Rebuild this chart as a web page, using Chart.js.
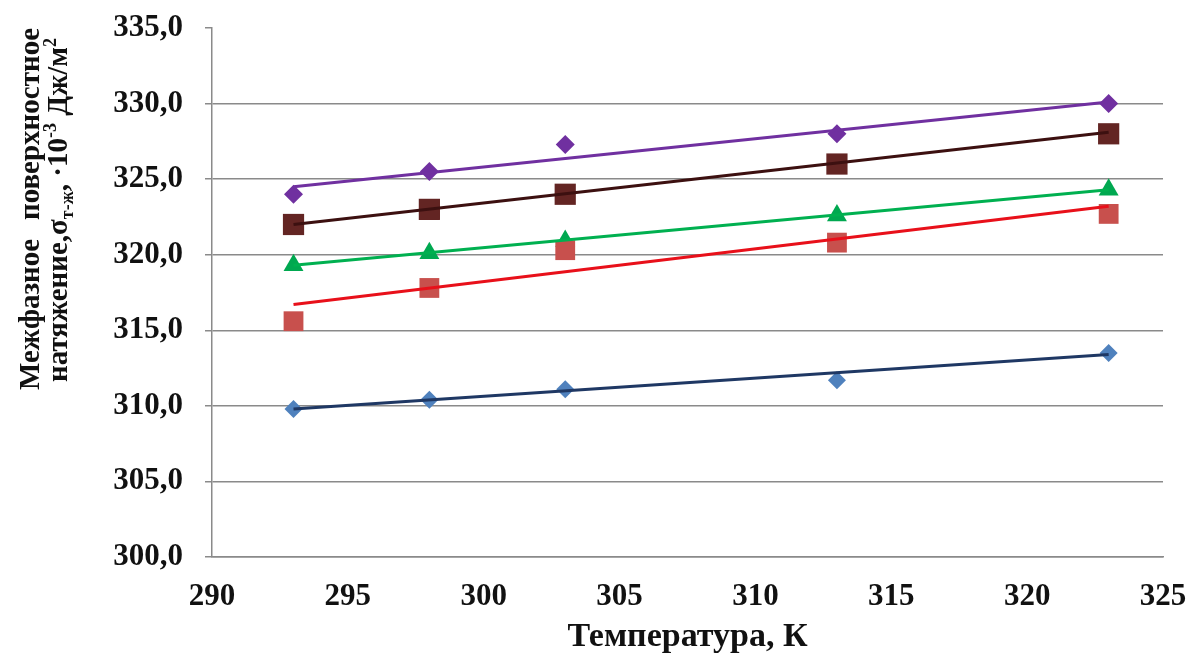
<!DOCTYPE html>
<html>
<head>
<meta charset="utf-8">
<script src="https://cdn.jsdelivr.net/npm/chart.js@4"></script>
<style>
    html, body { margin: 0; padding: 0; background: #fff; }
    #wrap { width: 1192px; height: 658px; }
</style>
</head>
<body>
<div id="wrap"><canvas id="chart" width="1192" height="658"></canvas></div>
<script>
// temperatures, K
const temps = [293, 298, 303, 313, 323];
// measured interfacial tension, 10^-3 J/m2
const seriesBlue = [309.8, 310.4, 311.1, 311.7, 313.5];
const seriesRed = [315.6, 317.8, 320.3, 320.8, 322.7];
const seriesGreen = [319.3, 320.1, 320.9, 322.6, 324.3];
const seriesBrown = [322.0, 323.0, 324.0, 326.0, 328.0];
const seriesPurple = [324.0, 325.5, 327.3, 328.0, 330.0];
// trend line ends (at 293 and 323 K)
const trendX = [293, 323];
const trendBlue = [309.8, 313.4];
const trendRed = [316.7, 323.2];
const trendGreen = [319.3, 324.3];
const trendBrown = [322.0, 328.1];
const trendPurple = [324.5, 330.1];

const FONT = "'Liberation Serif', 'Times New Roman', serif";

function pts(xs, ys) {
    return xs.map((x, i) => ({ x: x, y: ys[i] }));
}

function markers(data, style, color, radius) {
    return {
        type: 'scatter',
        data: pts(temps, data),
        showLine: false,
        pointStyle: style,
        pointRadius: radius,
        pointBackgroundColor: color,
        pointBorderColor: color,
        pointBorderWidth: 0,
        order: 2
    };
}

function trend(data, color) {
    return {
        type: 'line',
        data: pts(trendX, data),
        borderColor: color,
        borderWidth: 3,
        pointRadius: 0,
        fill: false,
        order: 1
    };
}

// y axis title with sub/superscripts
const yTitlePlugin = {
    id: 'yTitle',
    afterDraw(chart) {
        const ctx = chart.ctx;
        const big = 'bold 29px ' + FONT;
        const small = 'bold 18px ' + FONT;
        const span = 362;
        ctx.save();
        ctx.fillStyle = '#111';
        ctx.textBaseline = 'middle';

        // line 1, justified
        ctx.translate(32, 209);
        ctx.rotate(-Math.PI / 2);
        ctx.font = big;
        ctx.textAlign = 'left';
        ctx.fillText('Межфазное', -span / 2, 0);
        ctx.textAlign = 'right';
        ctx.fillText('поверхностное', span / 2, 0);
        ctx.restore();

        // line 2
        const parts = [
            { t: 'натяжение,σ', f: big, dy: 0 },
            { t: 'т-ж', f: small, dy: 8 },
            { t: ', ·10', f: big, dy: 0 },
            { t: '-3', f: small, dy: -9 },
            { t: ' Дж/м', f: big, dy: 0 },
            { t: '2', f: small, dy: -9 }
        ];
        ctx.save();
        ctx.fillStyle = '#111';
        ctx.textBaseline = 'middle';
        ctx.textAlign = 'left';
        ctx.translate(60, 210);
        ctx.rotate(-Math.PI / 2);
        let total = 0;
        parts.forEach(p => { ctx.font = p.f; total += ctx.measureText(p.t).width; });
        let x = -total / 2;
        parts.forEach(p => {
            ctx.font = p.f;
            ctx.fillText(p.t, x, p.dy);
            x += ctx.measureText(p.t).width;
        });
        ctx.restore();
    }
};

const ctx = document.getElementById('chart').getContext('2d');
new Chart(ctx, {
    data: {
        datasets: [
            markers(seriesBlue, 'rectRot', '#4F81BD', 9),
            markers(seriesRed, 'rect', '#C8504D', 14),
            markers(seriesGreen, 'triangle', '#00A850', 11.5),
            markers(seriesBrown, 'rect', '#632523', 15),
            markers(seriesPurple, 'rectRot', '#7030A0', 9.5),
            trend(trendBlue, '#1F3864'),
            trend(trendRed, '#E8101A'),
            trend(trendGreen, '#00B050'),
            trend(trendBrown, '#3C1010'),
            trend(trendPurple, '#7030A0')
        ]
    },
    options: {
        responsive: false,
        animation: false,
        layout: { padding: { left: 0, right: 29, top: 28, bottom: 0 } },
        plugins: {
            legend: { display: false },
            tooltip: { enabled: false }
        },
        scales: {
            x: {
                type: 'linear',
                min: 290,
                max: 325,
                ticks: {
                    stepSize: 5,
                    padding: 21,
                    color: '#111',
                    font: { family: FONT, size: 31, weight: 'bold' }
                },
                grid: { display: false, drawTicks: false },
                border: { display: true, color: '#8a8a8a', width: 1.5 },
                title: {
                    display: true,
                    text: 'Температура, К',
                    color: '#111',
                    font: { family: FONT, size: 34, weight: 'bold' },
                    padding: { top: 0, bottom: 0 }
                },
                afterFit(scale) {
                    scale.height = 101;
                    scale.paddingLeft = 0;
                    scale.paddingRight = 0;
                }
            },
            y: {
                type: 'linear',
                min: 300,
                max: 335,
                ticks: {
                    stepSize: 5,
                    padding: 22,
                    color: '#111',
                    font: { family: FONT, size: 31, weight: 'bold' },
                    callback: v => v.toFixed(1).replace('.', ',')
                },
                grid: {
                    color: c => (c.tick && c.tick.value === 335) ? 'rgba(0,0,0,0)' : '#8a8a8a',
                    tickColor: '#8a8a8a',
                    lineWidth: 1.5,
                    tickLength: 7
                },
                border: { display: true, color: '#8a8a8a', width: 1.5 },
                afterFit(scale) {
                    scale.width = 212;
                    scale.paddingTop = 0;
                    scale.paddingBottom = 0;
                }
            }
        }
    },
    plugins: [yTitlePlugin]
});
</script>
</body>
</html>
